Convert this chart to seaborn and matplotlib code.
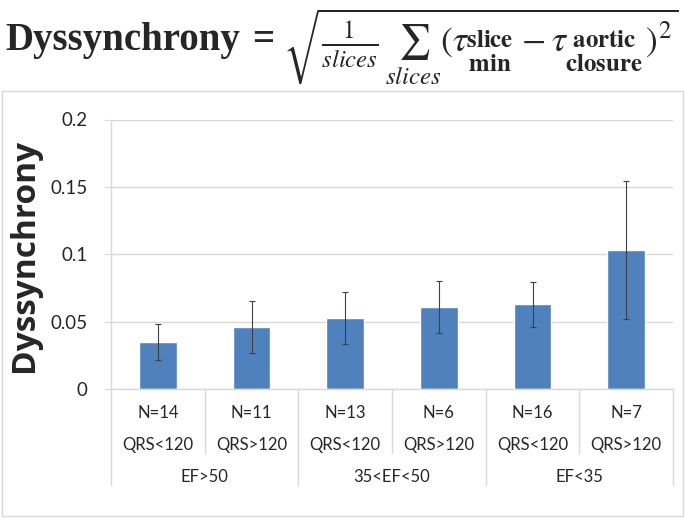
import matplotlib
matplotlib.use('Agg')
import matplotlib.pyplot as plt
import matplotlib.transforms as mtransforms
from matplotlib.patches import Rectangle
import seaborn as sns
import pandas as pd

# values
n_labels = ['N=14', 'N=11', 'N=13', 'N=6', 'N=16', 'N=7']
qrs_labels = ['QRS<120', 'QRS>120', 'QRS<120', 'QRS>120', 'QRS<120', 'QRS>120']
ef_groups = ['EF>50', '35<EF<50', 'EF<35']
means = [0.035, 0.046, 0.053, 0.061, 0.063, 0.103]
errs = [0.0134, 0.0196, 0.0193, 0.0192, 0.0167, 0.0513]
yticks = [0, 0.05, 0.1, 0.15, 0.2]
ytick_labels = ['0', '0.05', '0.1', '0.15', '0.2']

sns.set_style('white')
plt.rcParams['font.family'] = ['Lato', 'DejaVu Sans']
plt.rcParams['mathtext.fontset'] = 'stix'

fig = plt.figure(figsize=(6.85, 5.19), dpi=100)
ax = fig.add_axes([111/685, 1-389/519, 562/685, 269.5/519])

df = pd.DataFrame({'group': n_labels, 'value': means})
sns.barplot(data=df, x='group', y='value', color='#4F81BD', saturation=1,
            width=0.4, errorbar=None, ax=ax)
ax.errorbar(range(len(means)), means, yerr=errs, fmt='none', ecolor='#404040',
            elinewidth=0.8, capsize=2, capthick=0.8)

ax.set_ylim(0, 0.2)
ax.set_xlim(-0.5, 5.5)
ax.set_yticks(yticks)
ax.set_yticklabels(ytick_labels, fontsize=13.5)
ax.yaxis.grid(True, color='#D9D9D9', lw=1)
ax.set_axisbelow(True)
ax.set_xticks([])
ax.set_xlabel('')
ax.set_ylabel('')
for s in ['top', 'right']:
    ax.spines[s].set_visible(False)
for s in ['left', 'bottom']:
    ax.spines[s].set_color('#D9D9D9')
    ax.spines[s].set_linewidth(1)
ax.tick_params(axis='y', left=True, length=5, color='#D9D9D9', pad=12)

# multi level category axis
trans = mtransforms.blended_transform_factory(ax.transData, ax.transAxes)
for x in [0.5, 2.5, 4.5]:
    ax.plot([x, x], [0, -0.237], transform=trans, color='#D9D9D9', lw=1, clip_on=False)
for x in [-0.5, 1.5, 3.5, 5.5]:
    ax.plot([x, x], [0, -0.356], transform=trans, color='#D9D9D9', lw=1, clip_on=False)
for i in range(len(n_labels)):
    ax.text(i, -0.089, n_labels[i], transform=trans, ha='center', va='center', fontsize=12)
    ax.text(i, -0.2076, qrs_labels[i], transform=trans, ha='center', va='center', fontsize=12)
for j, g in enumerate(ef_groups):
    ax.text(2*j + 0.5, -0.326, g, transform=trans, ha='center', va='center', fontsize=12)

fig.text(25/685, 1-255/519, 'Dyssynchrony', rotation=90, ha='center', va='center',
         fontsize=24, fontweight='bold', family=['Open Sans', 'DejaVu Sans'])

fig.add_artist(Rectangle((2/685, 3/519), 681/685, 425/519, transform=fig.transFigure,
                         fill=False, edgecolor='#D9D9D9', lw=1))

# formula on top
fig.text(5/685, 1-50/519, 'Dyssynchrony', fontsize=28, fontweight='bold',
         family=['Liberation Serif', 'DejaVu Serif'], ha='left', va='baseline')
fig.text(252/685, 1-50/519, '=', fontsize=28, fontweight='bold',
         family=['Liberation Serif', 'DejaVu Serif'], ha='left', va='baseline')
formula = (r"$\sqrt{\frac{1}{slices}\,\sum_{slices}(\tau_{\genfrac{}{}{0}{0}{\mathbf{slice}}{\mathbf{min}}}-"
           r"\tau_{\genfrac{}{}{0}{0}{\mathbf{aortic}}{\mathbf{closure}}})^{2}}$")
fig.text(283/685, 1-47/519, formula, fontsize=25.5, ha='left', va='center')

fig.savefig('out.png', dpi=100)
